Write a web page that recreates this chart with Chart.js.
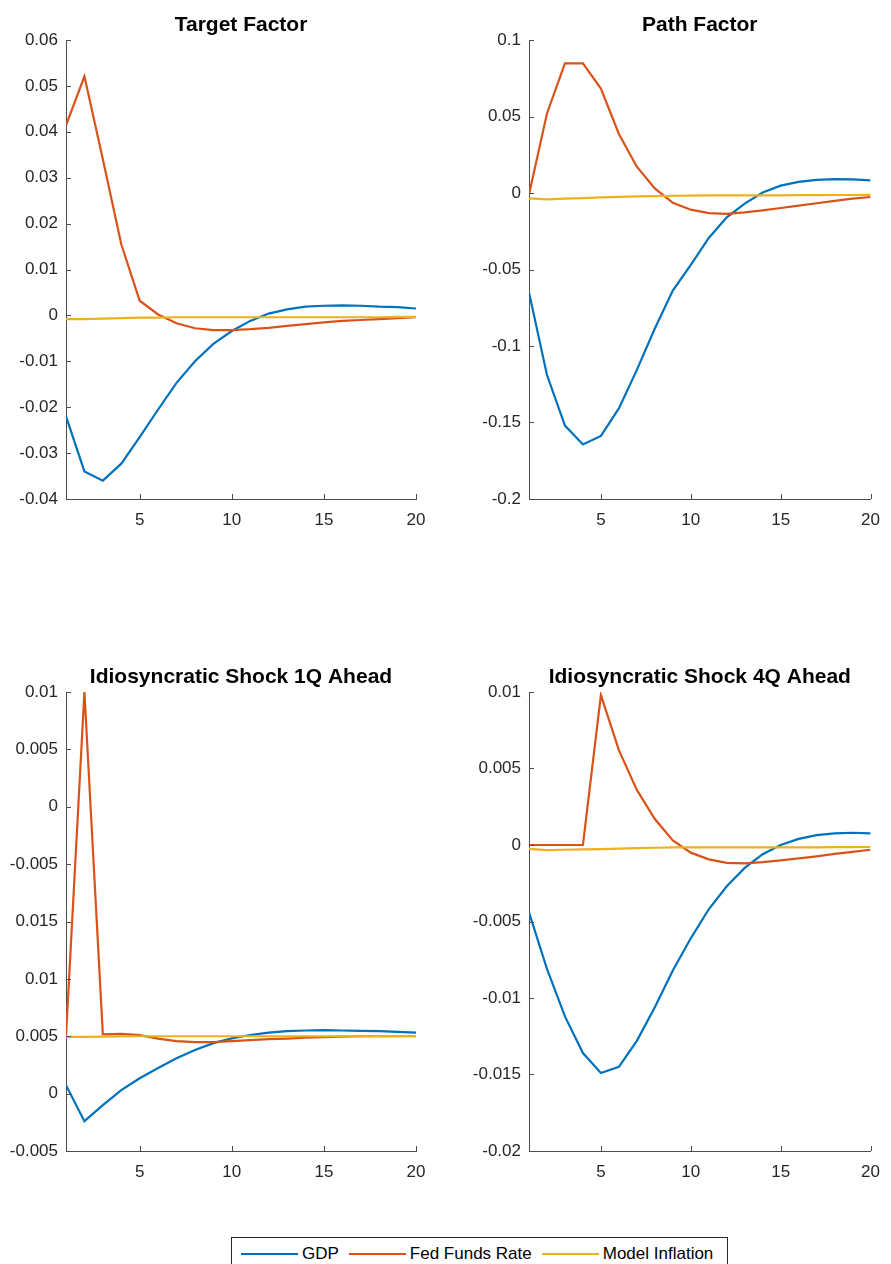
<!DOCTYPE html>
<html>
<head>
<meta charset="utf-8">
<script src="https://cdn.jsdelivr.net/npm/chart.js@4/dist/chart.umd.min.js"></script>
<style>
  body { margin: 0; background: #fff; width: 891px; height: 1264px; position: relative; overflow: hidden;
         font-family: "Liberation Sans", Arial, sans-serif; }
  canvas { position: absolute; }
  #legend { position: absolute; left: 231px; top: 1237px; width: 497px; height: 33px; box-sizing: border-box;
            border: 1px solid #262626; display: flex; align-items: center; padding-left: 9px;
            font-size: 17px; color: #000; white-space: nowrap; }
  #legend .sw { width: 57px; height: 2px; margin-right: 4px; }
  #legend .lbl { margin-right: 10px; }
</style>
</head>
<body>
<canvas id="c1" width="445" height="540" style="left:0;top:0"></canvas>
<canvas id="c2" width="446" height="540" style="left:445px;top:0"></canvas>
<canvas id="c3" width="445" height="540" style="left:0;top:652px"></canvas>
<canvas id="c4" width="446" height="540" style="left:445px;top:652px"></canvas>
<div id="legend"></div>
<script>
// horizon (quarters)
const horizon = [1, 2, 3, 4, 5, 6, 7, 8, 9, 10, 11, 12, 13, 14, 15, 16, 17, 18, 19, 20];
const xTicks = [5, 10, 15, 20];

const seriesNames = ["GDP", "Fed Funds Rate", "Model Inflation"];
const seriesColors = ["#0072BD", "#D95319", "#EDB120"];

// Target Factor
const tfGdp = [-0.022, -0.034, -0.036, -0.0323, -0.0265, -0.0205, -0.0147, -0.0100, -0.0062, -0.0034,
               -0.0012, 0.0004, 0.0013, 0.0019, 0.0021, 0.0022, 0.0021, 0.0019, 0.0018, 0.0015];
const tfFed = [0.0414, 0.0521, 0.0340, 0.0155, 0.0032, 0.0002, -0.0017, -0.0028, -0.0032, -0.0032,
               -0.0030, -0.0027, -0.0023, -0.0019, -0.0015, -0.0012, -0.0010, -0.0008, -0.0006, -0.0004];
const tfInf = [-0.0008, -0.0008, -0.0007, -0.0006, -0.0005, -0.0005, -0.0004, -0.0004, -0.0004, -0.0004,
               -0.0004, -0.0004, -0.0004, -0.0004, -0.0004, -0.0004, -0.0004, -0.0004, -0.0003, -0.0003];
const tfTicks = [-0.04, -0.03, -0.02, -0.01, 0, 0.01, 0.02, 0.03, 0.04, 0.05, 0.06];

// Path Factor
const pfGdp = [-0.065, -0.119, -0.152, -0.1644, -0.1588, -0.1408, -0.1156, -0.0886, -0.0638, -0.0469,
               -0.0294, -0.0159, -0.0069, 0.0003, 0.0048, 0.0073, 0.0086, 0.0091, 0.0089, 0.0082];
const pfFed = [-0.001, 0.052, 0.0847, 0.0848, 0.0683, 0.0386, 0.0172, 0.003, -0.0064, -0.0109,
               -0.0132, -0.0136, -0.0127, -0.0114, -0.0098, -0.0082, -0.0067, -0.0051, -0.0037, -0.0026];
const pfInf = [-0.0035, -0.0042, -0.0037, -0.0033, -0.0028, -0.0025, -0.0022, -0.0020, -0.0018, -0.0017,
               -0.0016, -0.0016, -0.0015, -0.0015, -0.0015, -0.0014, -0.0014, -0.0013, -0.0013, -0.0012];
const pfTicks = [-0.2, -0.15, -0.1, -0.05, 0, 0.05, 0.1];

// Idiosyncratic Shock 1Q Ahead (axis labels as printed in the figure)
const i1Gdp = [0.00074, -0.0024, -0.0010, 0.0003, 0.00134, 0.00224, 0.00308, 0.0038, 0.0044, 0.00481,
               0.00511, 0.00532, 0.00544, 0.0055, 0.00553, 0.0055, 0.00547, 0.00544, 0.00538, 0.00532];
const i1Fed = [0.0050, 0.0350, 0.00517, 0.0052, 0.0051, 0.0048, 0.00458, 0.00449, 0.00449, 0.00458,
               0.00466, 0.00475, 0.0048, 0.00487, 0.00493, 0.00496, 0.0050, 0.0050, 0.0050, 0.0050];
const i1Inf = [0.00495, 0.00495, 0.00497, 0.00498, 0.0050, 0.0050, 0.0050, 0.0050, 0.0050, 0.0050,
               0.0050, 0.0050, 0.0050, 0.0050, 0.0050, 0.0050, 0.0050, 0.00501, 0.00502, 0.00502];
const i1Ticks = [-0.005, 0, 0.005, 0.01, 0.015, 0.02, 0.025, 0.03, 0.035];
const i1Labels = ["-0.005", "0", "0.005", "0.01", "0.015", "-0.005", "0", "0.005", "0.01"];

// Idiosyncratic Shock 4Q Ahead
const i4Gdp = [-0.0044, -0.0081, -0.0112, -0.0136, -0.0149, -0.0145, -0.0128, -0.0106, -0.0082, -0.0061,
               -0.0042, -0.0027, -0.0015, -0.0006, 0.0000, 0.0004, 0.00065, 0.00076, 0.0008, 0.00076];
const i4Fed = [0, 0, 0, 0, 0.0098, 0.0062, 0.0036, 0.0017, 0.0003, -0.0005,
               -0.00094, -0.00117, -0.0012, -0.00112, -0.0010, -0.00088, -0.00074, -0.00058, -0.00045, -0.00031];
const i4Inf = [-0.00025, -0.00034, -0.00031, -0.00029, -0.00027, -0.00024, -0.00021, -0.00018, -0.00016, -0.00016,
               -0.00016, -0.00016, -0.00016, -0.00016, -0.00016, -0.00015, -0.00015, -0.00014, -0.00014, -0.00013];
const i4Ticks = [-0.02, -0.015, -0.01, -0.005, 0, 0.005, 0.01];

const axisColor = "#4d4d4d";
const textColor = "#262626";
const fontFamily = '"Liberation Sans", Arial, sans-serif';

// matlab style ticks pointing into the plot
const inwardTicks = {
  id: "inwardTicks",
  afterDraw(chart) {
    const { ctx, chartArea: a } = chart;
    const x = chart.scales.x, y = chart.scales.y;
    ctx.save();
    ctx.strokeStyle = axisColor;
    ctx.lineWidth = 1;
    ctx.beginPath();
    y.ticks.forEach(t => {
      const py = Math.round(y.getPixelForValue(t.value)) + 0.5;
      ctx.moveTo(a.left, py);
      ctx.lineTo(a.left + 5, py);
    });
    x.ticks.forEach(t => {
      const px = Math.round(x.getPixelForValue(t.value)) + 0.5;
      ctx.moveTo(px, a.bottom);
      ctx.lineTo(px, a.bottom - 5);
    });
    ctx.stroke();
    ctx.restore();
  }
};

function makePanel(id, title, series, yTicks, yLabels, yWidth, padRight) {
  const datasets = series.map((s, i) => ({
    label: seriesNames[i],
    data: horizon.map((h, k) => ({ x: h, y: s[k] })),
    borderColor: seriesColors[i],
    backgroundColor: seriesColors[i],
    borderWidth: 2.2,
    pointRadius: 0,
    tension: 0,
    order: 3 - i
  }));
  new Chart(document.getElementById(id), {
    type: "line",
    data: { datasets: datasets },
    options: {
      responsive: false,
      animation: false,
      layout: { padding: { top: 0, right: padRight, bottom: 0, left: 0 } },
      plugins: {
        legend: { display: false },
        tooltip: { enabled: false },
        title: {
          display: true, text: title, fullSize: false, color: "#000",
          font: { family: fontFamily, size: 21, weight: "bold", lineHeight: 1.2 },
          padding: { top: 12.5, bottom: 2.3 }
        }
      },
      scales: {
        x: {
          type: "linear", min: 1, max: 20,
          afterBuildTicks: sc => { sc.ticks = xTicks.map(v => ({ value: v })); },
          afterFit: sc => { sc.height = 41; },
          grid: { display: false, drawTicks: false, tickLength: 0 },
          border: { display: true, color: axisColor, width: 1 },
          ticks: { color: textColor, font: { family: fontFamily, size: 17 }, padding: 11, maxRotation: 0,
                   callback: v => String(v) }
        },
        y: {
          type: "linear", min: yTicks[0], max: yTicks[yTicks.length - 1],
          afterBuildTicks: sc => { sc.ticks = yTicks.map(v => ({ value: v })); },
          afterFit: sc => { sc.width = yWidth; },
          grid: { display: false, drawTicks: false, tickLength: 0 },
          border: { display: true, color: axisColor, width: 1 },
          ticks: { color: textColor, font: { family: fontFamily, size: 17 }, padding: 8,
                   callback: (v, i) => yLabels ? yLabels[i] : String(yTicks[i]) }
        }
      }
    },
    plugins: [inwardTicks]
  });
}

makePanel("c1", "Target Factor", [tfGdp, tfFed, tfInf], tfTicks, null, 66, 29);
makePanel("c2", "Path Factor", [pfGdp, pfFed, pfInf], pfTicks, null, 84, 13);
makePanel("c3", "Idiosyncratic Shock 1Q Ahead", [i1Gdp, i1Fed, i1Inf], i1Ticks, i1Labels, 66, 29);
makePanel("c4", "Idiosyncratic Shock 4Q Ahead", [i4Gdp, i4Fed, i4Inf], i4Ticks, null, 84, 13);

// legend
const legend = document.getElementById("legend");
seriesNames.forEach((name, i) => {
  const sw = document.createElement("span");
  sw.className = "sw";
  sw.style.background = seriesColors[i];
  const lbl = document.createElement("span");
  lbl.className = "lbl";
  lbl.textContent = name;
  legend.appendChild(sw);
  legend.appendChild(lbl);
});
</script>
</body>
</html>
